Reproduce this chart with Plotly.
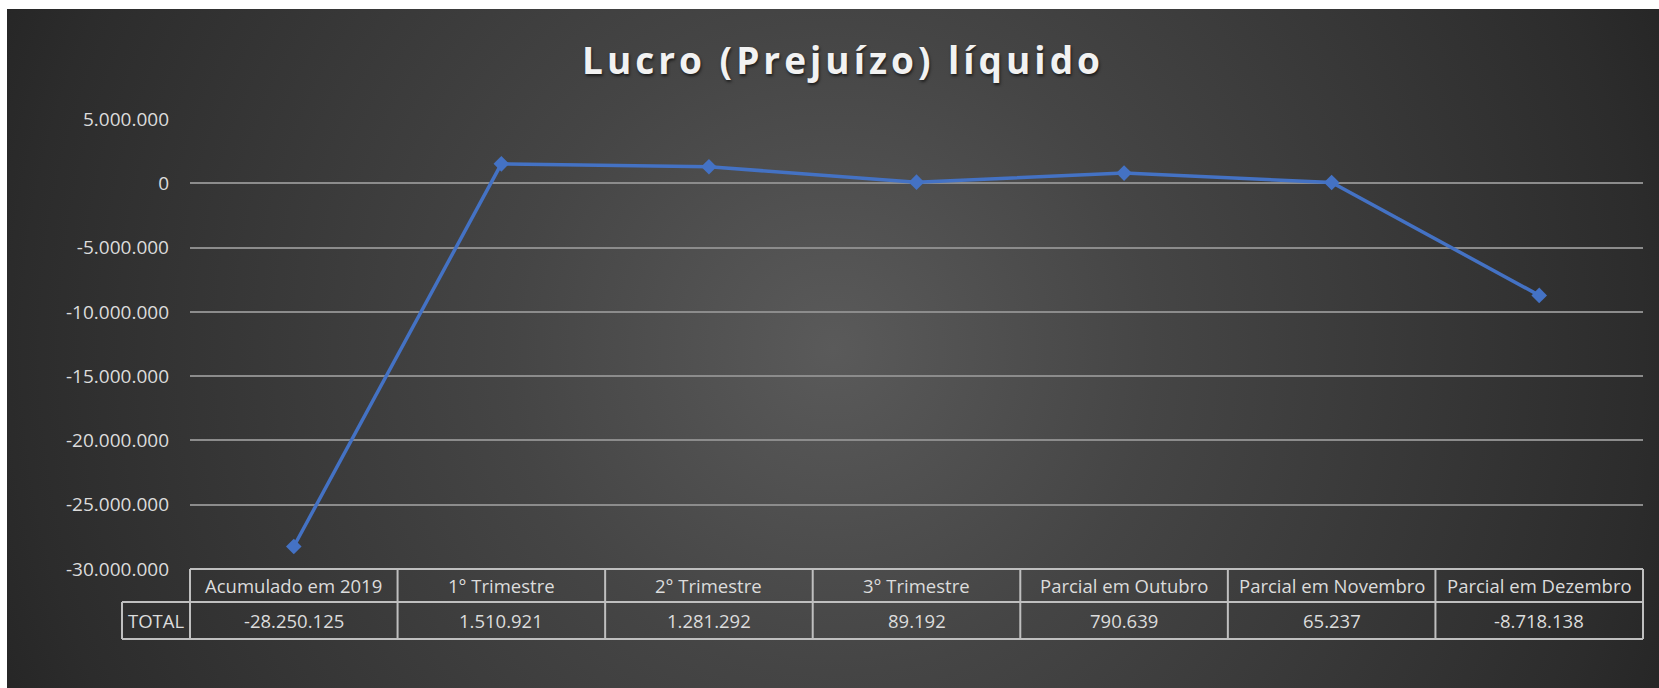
import base64
import plotly.graph_objects as go

# ---- data ----
categories = ["Acumulado em 2019", "1° Trimestre", "2° Trimestre", "3° Trimestre",
              "Parcial em Outubro", "Parcial em Novembro", "Parcial em Dezembro"]
values = [-28250125, 1510921, 1281292, 89192, 790639, 65237, -8718138]
value_labels = ["-28.250.125", "1.510.921", "1.281.292", "89.192", "790.639", "65.237", "-8.718.138"]
row_label = "TOTAL"
tick_vals = [5000000, 0, -5000000, -10000000, -15000000, -20000000, -25000000, -30000000]
tick_text = ["5.000.000", "0", "-5.000.000", "-10.000.000", "-15.000.000",
             "-20.000.000", "-25.000.000", "-30.000.000"]
title_text = "Lucro (Prejuízo) líquido"

# ---- layout constants ----
W, H = 1659, 688
L, R, T, B = 190, 16, 119, 119
plot_w = W - L - R
plot_h = H - T - B
n = len(categories)
cat_w = plot_w / n

def py(pix):  # pixel y -> paper y
    return (H - B - pix) / plot_h

def pxp(pix):  # pixel x -> paper x
    return (pix - L) / plot_w

# background gradient as svg
bg_x0, bg_y0, bg_x1, bg_y1 = 7, 9, 1659, 688
bw, bh = bg_x1 - bg_x0, bg_y1 - bg_y0
svg = f'''<svg xmlns="http://www.w3.org/2000/svg" width="{bw}" height="{bh}" viewBox="0 0 {bw} {bh}" preserveAspectRatio="none">
<defs><radialGradient id="g" gradientUnits="userSpaceOnUse" cx="{bw*0.50}" cy="{bh*0.50}" r="900">
<stop offset="0" stop-color="#5a5a5a"/>
<stop offset="0.36" stop-color="#454545"/>
<stop offset="0.9" stop-color="#2c2c2c"/>
<stop offset="1" stop-color="#262626"/>
</radialGradient></defs>
<rect x="0" y="0" width="{bw}" height="{bh}" fill="url(#g)"/>
</svg>'''
bg_src = "data:image/svg+xml;base64," + base64.b64encode(svg.encode()).decode()

fig = go.Figure()
fig.add_trace(go.Scatter(
    x=categories, y=values, mode="lines+markers",
    line=dict(color="#4472C4", width=3.5),
    marker=dict(symbol="diamond", size=12, color="#4472C4"),
    hoverinfo="skip", showlegend=False,
))

font_tbl = "Open Sans"
txt_col = "#dcdcdc"
line_col = "#bfbfbf"
tbl_size = 18.5

# table geometry (pixels)
hdr_top, hdr_bot, tot_bot = 569, 602, 639
total_left = 122
shapes = []
xl = pxp(L)
xr = pxp(W - R)
xt = pxp(total_left)
shapes.append(dict(type="line", xref="paper", yref="paper", x0=xl, x1=xr, y0=py(hdr_top), y1=py(hdr_top),
                   line=dict(color=line_col, width=2)))
for yy in (hdr_bot, tot_bot):
    shapes.append(dict(type="line", xref="paper", yref="paper", x0=xt, x1=xr, y0=py(yy), y1=py(yy),
                       line=dict(color=line_col, width=2)))
shapes.append(dict(type="line", xref="paper", yref="paper", x0=xt, x1=xt, y0=py(hdr_bot), y1=py(tot_bot),
                   line=dict(color=line_col, width=2)))
for k in range(n + 1):
    xx = pxp(L + k * cat_w)
    shapes.append(dict(type="line", xref="paper", yref="paper", x0=xx, x1=xx, y0=py(hdr_top), y1=py(tot_bot),
                       line=dict(color=line_col, width=2)))

annotations = []
for i, c in enumerate(categories):
    cx = pxp(L + (i + 0.5) * cat_w)
    annotations.append(dict(x=cx, y=py((hdr_top + hdr_bot) / 2), xref="paper", yref="paper", text=c,
                            showarrow=False, font=dict(family=font_tbl, size=tbl_size, color=txt_col),
                            xanchor="center", yanchor="middle"))
    annotations.append(dict(x=cx, y=py((hdr_bot + tot_bot) / 2), xref="paper", yref="paper",
                            text=value_labels[i], showarrow=False,
                            font=dict(family=font_tbl, size=tbl_size, color=txt_col),
                            xanchor="center", yanchor="middle"))
annotations.append(dict(x=pxp((total_left + L) / 2), y=py((hdr_bot + tot_bot) / 2), xref="paper", yref="paper",
                        text=row_label, showarrow=False,
                        font=dict(family=font_tbl, size=tbl_size, color=txt_col),
                        xanchor="center", yanchor="middle"))

fig.update_layout(
    width=W, height=H,
    margin=dict(l=L, r=R, t=T, b=B, pad=0),
    paper_bgcolor="white",
    plot_bgcolor="rgba(0,0,0,0)",
    title=dict(text=f'<span style="letter-spacing:4px">{title_text}</span>',
               x=843 / W, xref="container", xanchor="center",
               y=1 - 61 / H, yref="container", yanchor="middle",
               font=dict(family="Open Sans", size=37, color="#f2f2f2", weight="bold",
                         shadow="1px 2px 3px rgba(0,0,0,0.6)")),
    xaxis=dict(type="category", range=[-0.5, n - 0.5], showticklabels=False, showgrid=False,
               zeroline=False, showline=False, ticks=""),
    yaxis=dict(range=[-30000000, 5000000], tickvals=tick_vals, ticktext=tick_text,
               showgrid=True, gridcolor="#8c8c8c", gridwidth=1.5, zeroline=False, showline=False,
               ticks="", ticklabelstandoff=20,
               tickfont=dict(family=font_tbl, size=19, color=txt_col)),
    shapes=shapes,
    annotations=annotations,
    images=[dict(source=bg_src, xref="paper", yref="paper",
                 x=(bg_x0 - L) / plot_w, y=(H - B - bg_y0) / plot_h,
                 sizex=bw / plot_w, sizey=bh / plot_h,
                 xanchor="left", yanchor="top", sizing="stretch", layer="below")],
)

fig.write_html("out.html", config={"displayModeBar": False},
               post_script="document.body.style.margin='0';document.body.style.overflow='hidden';")
